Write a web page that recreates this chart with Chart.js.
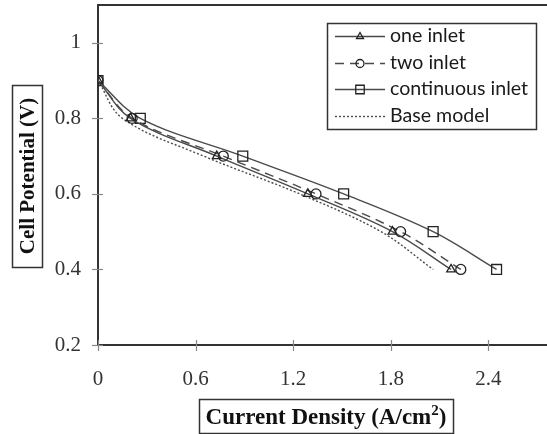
<!DOCTYPE html>
<html lang="en">
<head>
  <meta charset="utf-8">
  <title>Cell Potential vs Current Density</title>
  <script src="https://cdn.jsdelivr.net/npm/chart.js@4.4.1/dist/chart.umd.min.js"></script>
  <style>
    html, body { margin: 0; padding: 0; background: #fff; }
    #wrap { width: 547px; height: 434px; position: relative; }
  </style>
</head>
<body>
<div id="wrap">
  <canvas id="polChart" width="547" height="434"></canvas>
</div>
<script>

// cell potential levels shared by every curve (V)
var cellV = [0.9, 0.8, 0.7, 0.6, 0.5, 0.4];
// current density (A/cm2) for each case
var oneInlet = [0, 0.20, 0.73, 1.29, 1.81, 2.17];
var twoInlet = [0, 0.21, 0.77, 1.34, 1.86, 2.23];
var contInlet = [0, 0.26, 0.89, 1.51, 2.06, 2.45];
var baseModel = [0, 0.15, 0.65, 1.24, 1.74, 2.06];

var seriesNames = ['one inlet', 'two inlet', 'continuous inlet', 'Base model'];
var xTicks = [0, 0.6, 1.2, 1.8, 2.4];
var yTicks = [0.2, 0.4, 0.6, 0.8, 1];

function toPoints(xs, ys) {
  var pts = [];
  for (let i = 0; i < xs.length; i++) {
    pts.push({ x: xs[i], y: ys[i] });
  }
  return pts;
}

var lineColor = '#4a4a4a';

var datasets = [
  { label: seriesNames[0], data: toPoints(oneInlet, cellV), pointStyle: 'triangle', pointRadius: 5, borderDash: [] },
  { label: seriesNames[1], data: toPoints(twoInlet, cellV), pointStyle: 'circle', pointRadius: 5, borderDash: [9, 6] },
  { label: seriesNames[2], data: toPoints(contInlet, cellV), pointStyle: 'rect', pointRadius: 7, borderDash: [] },
  { label: seriesNames[3], data: toPoints(baseModel, cellV), pointStyle: false, pointRadius: 0, borderDash: [2, 2] }
].map(function (d) {
  d.showLine = true;
  d.borderColor = lineColor;
  d.borderWidth = 1.4;
  d.pointBorderColor = '#222';
  d.pointBackgroundColor = 'rgba(255,255,255,0)';
  d.pointBorderWidth = 1.3;
  d.tension = 0.35;
  return d;
});

// axis titles in boxes, crossing ticks, top frame line and the legend box
var decorations = {
  id: 'decorations',
  afterDraw: function (chart) {
    var ctx = chart.ctx;
    var area = chart.chartArea;
    var xs = chart.scales.x, ys = chart.scales.y;
    ctx.save();

    // top frame line
    ctx.strokeStyle = '#333';
    ctx.lineWidth = 2;
    ctx.beginPath();
    ctx.moveTo(area.left - 1, area.top);
    ctx.lineTo(area.right, area.top);
    ctx.stroke();

    // crossing tick marks
    ctx.strokeStyle = '#888';
    ctx.lineWidth = 1.2;
    yTicks.forEach(function (v) {
      var py = Math.round(ys.getPixelForValue(v)) + 0.5;
      ctx.beginPath();
      ctx.moveTo(area.left - 6, py);
      ctx.lineTo(area.left + 5, py);
      ctx.stroke();
    });
    xTicks.forEach(function (v) {
      var px = Math.round(xs.getPixelForValue(v)) + 0.5;
      ctx.beginPath();
      ctx.moveTo(px, area.bottom - 5);
      ctx.lineTo(px, area.bottom + 6);
      ctx.stroke();
    });

    // y title
    ctx.strokeStyle = '#333';
    ctx.lineWidth = 1.5;
    ctx.strokeRect(12.5, 85.5, 30, 182);
    ctx.save();
    ctx.translate(28, 176);
    ctx.rotate(-Math.PI / 2);
    ctx.fillStyle = '#111';
    ctx.font = 'bold 21px "Liberation Serif", "DejaVu Serif", serif';
    ctx.textAlign = 'center';
    ctx.textBaseline = 'middle';
    ctx.fillText('Cell Potential (V)', 0, 1);
    ctx.restore();

    // x title with superscript
    ctx.strokeRect(199.5, 399.5, 254, 34);
    ctx.fillStyle = '#111';
    ctx.textBaseline = 'alphabetic';
    ctx.textAlign = 'left';
    var mainFont = 'bold 23px "Liberation Serif", "DejaVu Serif", serif';
    var supFont = 'bold 15px "Liberation Serif", "DejaVu Serif", serif';
    ctx.font = mainFont;
    var a = 'Current Density (A/cm', b = ')';
    var wa = ctx.measureText(a).width, wb = ctx.measureText(b).width;
    ctx.font = supFont;
    var ws = ctx.measureText('2').width;
    var startX = 326 - (wa + ws + wb) / 2;
    var base = 424;
    ctx.font = mainFont;
    ctx.fillText(a, startX, base);
    ctx.font = supFont;
    ctx.fillText('2', startX + wa, base - 9);
    ctx.font = mainFont;
    ctx.fillText(b, startX + wa + ws, base);

    // legend
    ctx.fillStyle = '#fff';
    ctx.fillRect(327, 23, 210, 107);
    ctx.strokeStyle = '#333';
    ctx.lineWidth = 1.5;
    ctx.strokeRect(327.5, 23.5, 209, 106);
    var rows = [36, 63, 89, 116];
    ctx.font = '16px Lato, "Open Sans", sans-serif';
    var wLong = ctx.measureText('continuous inlet').width;
    var fs = 16 * 138 / wLong;
    ctx.font = fs.toFixed(1) + 'px Lato, "Open Sans", sans-serif';
    ctx.textBaseline = 'middle';
    chart.data.datasets.forEach(function (ds, i) {
      var y = rows[i] + 0.5;
      ctx.strokeStyle = lineColor;
      ctx.lineWidth = 1.4;
      ctx.setLineDash(ds.borderDash);
      ctx.beginPath();
      ctx.moveTo(335, y);
      ctx.lineTo(385, y);
      ctx.stroke();
      ctx.setLineDash([]);
      if (ds.pointStyle) {
        ctx.strokeStyle = '#222';
        ctx.lineWidth = 1.3;
        ctx.fillStyle = 'rgba(255,255,255,0)';
        Chart.helpers.drawPoint(ctx, {
          pointStyle: ds.pointStyle,
          radius: ds.pointStyle === 'rect' ? 6 : 4,
          borderWidth: 1.3,
          rotation: 0
        }, 360, y);
      }
      ctx.fillStyle = '#1a1a1a';
      ctx.fillText(ds.label, 390, rows[i]);
    });

    ctx.restore();
  }
};

var ctx = document.getElementById('polChart').getContext('2d');
var mychart = new Chart(ctx, {
  type: 'scatter',
  data: { datasets: datasets },
  options: {
    responsive: false,
    animation: false,
    layout: { autoPadding: false, padding: { top: 5, right: 0, left: 0, bottom: 0 } },
    plugins: { legend: { display: false }, tooltip: { enabled: false } },
    scales: {
      x: {
        type: 'linear',
        min: 0,
        max: 2.76,
        afterFit: function (s) {
          s.height = 89;
          s.paddingLeft = 0; s.paddingRight = 0;
        },
        afterBuildTicks: function (s) { s.ticks = xTicks.map(function (v) { return { value: v }; }); },
        ticks: {
          color: '#333',
          padding: 16,
          font: { family: '"Liberation Serif", serif', size: 21 },
          callback: function (v) { return String(+v.toFixed(1)); }
        },
        grid: { color: 'transparent', drawOnChartArea: false, tickLength: 6 },
        border: { color: '#333', width: 2 }
      },
      y: {
        type: 'linear',
        min: 0.2,
        max: 1.1,
        afterFit: function (s) {
          s.width = 98;
          s.paddingTop = 0; s.paddingBottom = 0;
        },
        afterBuildTicks: function (s) { s.ticks = yTicks.map(function (v) { return { value: v }; }); },
        ticks: {
          color: '#333',
          padding: 11,
          font: { family: '"Liberation Serif", serif', size: 21 },
          callback: function (v) { return String(+v.toFixed(1)); }
        },
        grid: { color: 'transparent', drawOnChartArea: false, tickLength: 6 },
        border: { color: '#333', width: 2 }
      }
    }
  },
  plugins: [decorations]
});

</script>
</body>
</html>
